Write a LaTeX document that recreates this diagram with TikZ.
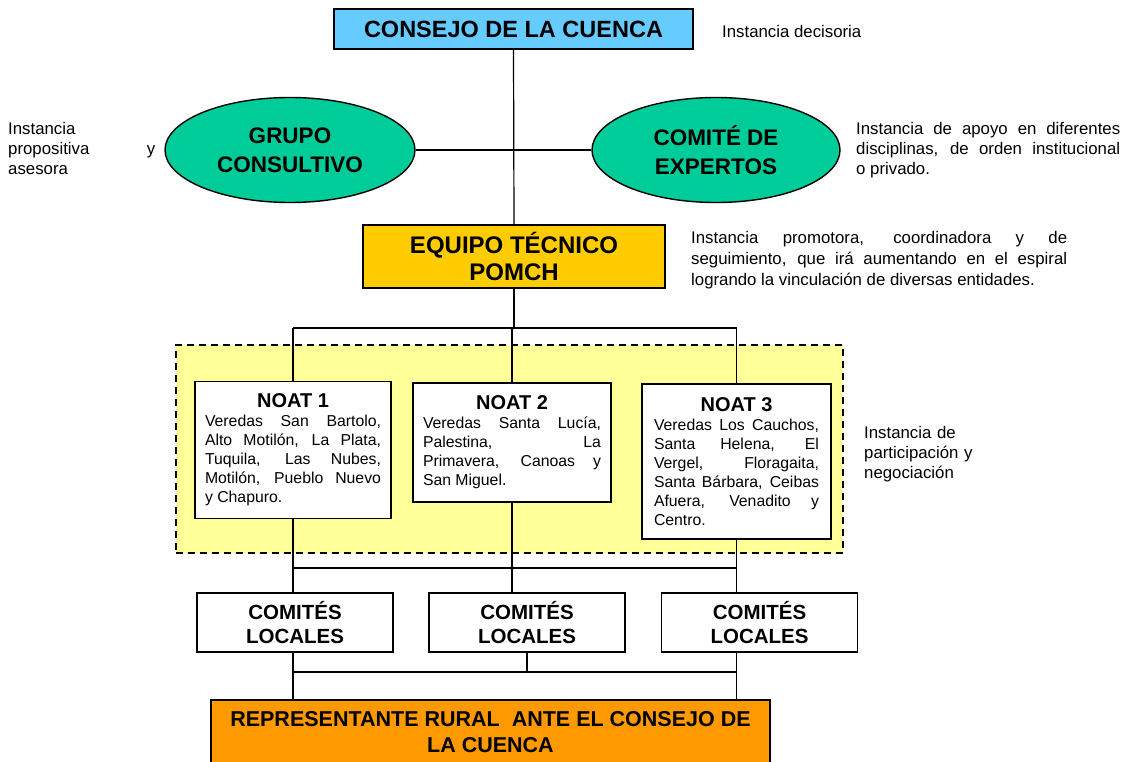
\documentclass[tikz,border=0pt]{standalone}
\usepackage{fontspec}
\setmainfont{Liberation Sans}
\usetikzlibrary{positioning,shapes.geometric}

\definecolor{celeste}{HTML}{66CCFF}
\definecolor{verdeagua}{HTML}{00CC99}
\definecolor{dorado}{HTML}{FFCC00}
\definecolor{naranja}{HTML}{FF9900}
\definecolor{amarillo}{HTML}{FFFF99}

\newcommand{\noattit}{\fontsize{20}{22}\selectfont\bfseries}

\tikzset{
  caja/.style={draw, line width=1.6pt, inner sep=0pt, align=center},
  elipse/.style={ellipse, draw, line width=1.4pt, fill=verdeagua, inner sep=0pt, align=center,
    font=\fontsize{22.5}{29}\selectfont\bfseries},
  noat/.style={draw, line width=1.4pt, fill=white, inner xsep=10pt, inner ysep=0pt, align=justify,
    font=\fontsize{15.8}{19}\selectfont},
  comite/.style={draw, line width=1.2pt, fill=white, inner sep=0pt, align=center,
    minimum width=196pt, minimum height=59pt, font=\fontsize{20.5}{24}\selectfont\bfseries},
  nota/.style={inner sep=0pt, align=justify, font=\fontsize{16.8}{20}\selectfont},
  enlace/.style={line width=1.2pt}
}

\begin{document}
\begin{tikzpicture}[x=1pt, y=-1pt]
\useasboundingbox (0,0) rectangle (1127,762);

% zona de participacion
\node[draw, dash pattern=on 7pt off 5pt, line width=1.2pt, fill=amarillo, minimum width=667pt,
  minimum height=208pt, inner sep=0pt] (zona) at (509.5,449) {};

% instancias superiores
\node[caja, fill=celeste, minimum width=359pt, minimum height=40pt, font=\fontsize{23.5}{26}\selectfont\bfseries]
  (consejo) at (513.5,29) {CONSEJO DE LA CUENCA};
\node[elipse, minimum width=250pt, minimum height=105pt] (grupo) at (290,150) {GRUPO\\CONSULTIVO};
\node[elipse, minimum width=248pt, minimum height=105pt] (expertos) at (716,150) {COMITÉ DE\\EXPERTOS};
\node[caja, fill=dorado, minimum width=302pt, minimum height=63pt, font=\fontsize{24}{27}\selectfont\bfseries]
  (equipo) at (514,256.5) {EQUIPO TÉCNICO\\POMCH};

% NOAT
\node[noat, text width=176pt, minimum height=137pt] (noat1) at (293,450)
  {{\centering\noattit NOAT 1\par}
   Veredas San Bartolo,\linebreak Alto Motilón, La Plata,\linebreak Tuquila, Las Nubes,\linebreak
   Motilón, Pueblo Nuevo\linebreak y Chapuro.};
\node[noat, text width=178pt, minimum height=119pt] (noat2) at (512,442.5)
  {{\centering\noattit NOAT 2\par}
   Veredas Santa Lucía,\linebreak Palestina, La\linebreak Primavera, Canoas y\linebreak San Miguel.};
\node[noat, text width=165pt, inner xsep=12pt, minimum height=155pt] (noat3) at (736.5,461.5)
  {{\centering\noattit NOAT 3\par}
   Veredas Los Cauchos,\linebreak Santa Helena, El\linebreak Vergel, Floragaita,\linebreak
   Santa Bárbara, Ceibas\linebreak Afuera, Venadito y\linebreak Centro.};

% comites locales
\node[comite] (com1) at (295,622.5) {COMITÉS\\LOCALES};
\node[comite] (com2) at (527,622.5) {COMITÉS\\LOCALES};
\node[comite] (com3) at (759.5,622.5) {COMITÉS\\LOCALES};

\node[caja, fill=naranja, minimum width=559pt, minimum height=64pt, font=\fontsize{21.5}{26}\selectfont\bfseries]
  (rural) at (490.5,732) {REPRESENTANTE RURAL\ \ ANTE EL CONSEJO DE\\LA CUENCA};

% notas
\node[nota, anchor=west] (notaconsejo) at (722,31) {Instancia decisoria};
\node[nota, anchor=north west, text width=147pt] (notagrupo) at (8,122)
  {Instancia\linebreak propositiva y\linebreak asesora};
\node[nota, anchor=north west, text width=264pt] (notaexpertos) at (856,122)
  {Instancia de apoyo en diferentes\linebreak disciplinas, de orden institucional\linebreak o privado.};
\node[nota, anchor=north west, text width=376pt, font=\fontsize{16.8}{21}\selectfont] (notaequipo) at (691,231)
  {Instancia promotora, coordinadora y de\linebreak seguimiento, que irá aumentando en el espiral\linebreak
   logrando la vinculación de diversas entidades.};
\node[nota, anchor=north west, text width=130pt, align=left] (notazona) at (864,426)
  {Instancia de\\participación y\\negociación};

% conectores
\coordinate (bus1) at (514,328);
\coordinate (bus2) at (514,568);
\coordinate (bus3) at (527,672);
\draw[enlace] (consejo.south) -- (equipo.north);
\draw[enlace] (grupo.east) -- (expertos.west);
\draw[enlace] (equipo.south) -- (bus1);
\draw[enlace] (noat1.north |- bus1) -- (noat3.north |- bus1);
\foreach \n in {noat1,noat2,noat3}
  \draw[enlace] (\n.north |- bus1) -- (\n.north);
\draw[enlace] (noat1.south) -- (noat1.south |- com1.north);
\draw[enlace] (noat2.south) -- (noat2.south |- com2.north);
\draw[enlace] (noat3.south) -- (noat3.south |- com3.north);
\draw[enlace] (noat1.south |- bus2) -- (noat3.south |- bus2);
\draw[enlace] (com2.south) -- (bus3);
\draw[enlace] (noat1.south |- com1.south) -- (noat1.south |- rural.north);
\draw[enlace] (noat3.south |- com3.south) -- (noat3.south |- rural.north);
\draw[enlace] (noat1.south |- bus3) -- (noat3.south |- bus3);
\end{tikzpicture}
\end{document}
